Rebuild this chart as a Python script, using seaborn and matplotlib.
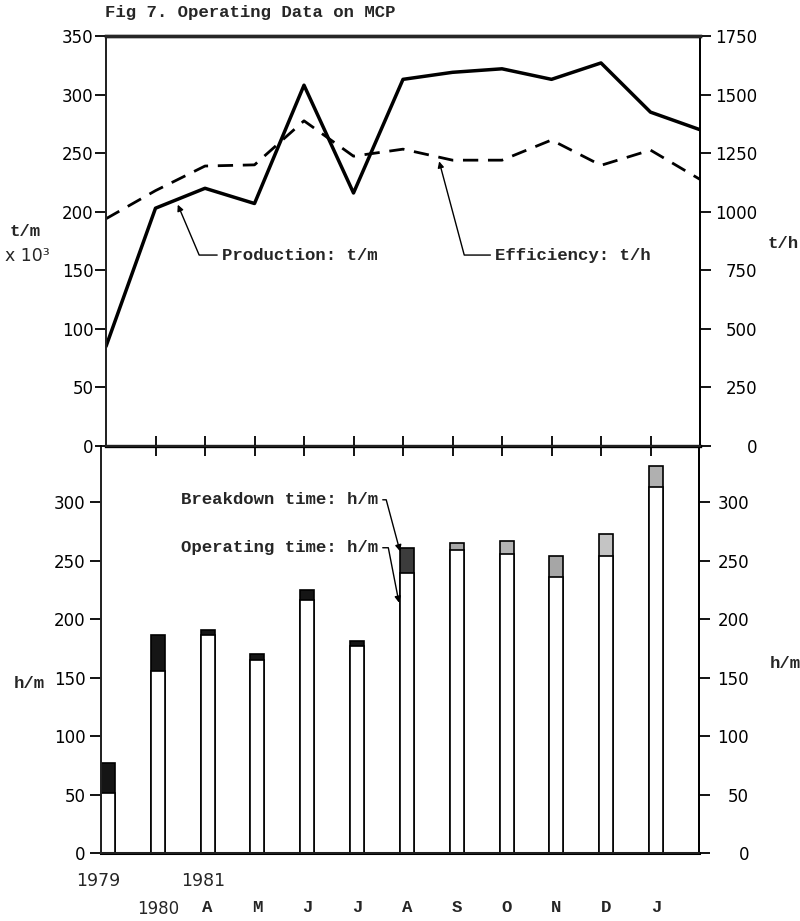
import numpy as np
import pandas as pd
import matplotlib
matplotlib.use("Agg")
import matplotlib.pyplot as plt
import seaborn as sns

# ---------------- data ----------------
periods = ["1979", "1980", "Apr81", "May81", "Jun81", "Jul81", "Aug81",
           "Sep81", "Oct81", "Nov81", "Dec81", "Jan82", "Feb82"]
production = [85, 203, 220, 207, 308, 216, 313, 319, 322, 313, 327, 285, 270]      # t/m x 10^3
efficiency = [970, 1090, 1195, 1200, 1388, 1237, 1267, 1220, 1220, 1306, 1198, 1263, 1138]  # t/h

bar_periods = periods[:12]
operating = [51, 156, 186, 165, 216, 177, 239, 259, 256, 236, 254, 313]   # h/m
breakdown = [26, 30, 5, 5, 9, 4, 22, 6, 11, 18, 19, 18]                   # h/m
breakdown_colors = ["#151515", "#151515", "#151515", "#151515", "#151515", "#151515",
                    "#3c3c3c", "#a8a8a8", "#b4b4b4", "#a6a6a6", "#c4c4c4", "#b0b0b0"]

year_labels = ["1979", "", "1981", "", "", "", "", "", "", "", "", ""]
month_labels = ["", "1980", "A", "M", "J", "J", "A", "S", "O", "N", "D", "J"]

top_left_ticks = [0, 50, 100, 150, 200, 250, 300, 350]
top_right_ticks = [0, 250, 500, 750, 1000, 1250, 1500, 1750]
bottom_ticks = [0, 50, 100, 150, 200, 250, 300]

# ---------------- style ----------------
sns.set_theme(style="ticks")
plt.rcParams["font.family"] = ["DejaVu Sans"]
MONO = dict(family="Liberation Mono", weight="bold", size=12.5)
W, H = 800, 921

fig = plt.figure(figsize=(8, 9.21), dpi=100)
fig.patch.set_facecolor("white")

# ---------------- bottom panel (bars) ----------------
ax_b = fig.add_axes([101 / W, 1 - 853 / H, (699 - 101) / W, (853 - 446) / H])
df_bar = pd.DataFrame({"period": bar_periods, "operating": operating, "breakdown": breakdown})
df_bar["total"] = df_bar["operating"] + df_bar["breakdown"]

sns.barplot(data=df_bar, x="period", y="total", hue="period", order=bar_periods,
            hue_order=bar_periods, palette=breakdown_colors, legend=False,
            width=0.28, saturation=1, edgecolor="black", linewidth=1.2, ax=ax_b)
sns.barplot(data=df_bar, x="period", y="operating", order=bar_periods,
            color="white", width=0.28, saturation=1, edgecolor="black",
            linewidth=1.2, ax=ax_b)

ax_b.set_xlim(-0.14, 11.86)
ax_b.set_ylim(0, 348)
ax_b.set_xlabel("")
ax_b.set_ylabel("")
ax_b.set_yticks(bottom_ticks)
ax_b.set_yticklabels([str(t) for t in bottom_ticks])
ax_b.tick_params(axis="y", direction="out", length=8, width=1.3, pad=3,
                 labelsize=12, colors="black")
ax_b.set_xticks(range(len(bar_periods)))
ax_b.set_xticklabels(month_labels)
ax_b.tick_params(axis="x", length=0, pad=34)
for i, lbl in enumerate(ax_b.get_xticklabels()):
    if month_labels[i].isdigit():
        lbl.set_fontfamily("DejaVu Sans")
        lbl.set_fontsize(12)
    else:
        lbl.set_fontfamily("Liberation Mono")
        lbl.set_fontweight("bold")
        lbl.set_fontsize(12.5)
year_shift = {"1979": -0.2, "1981": -0.08}
for i, yl in enumerate(year_labels):
    if yl:
        ax_b.annotate(yl, xy=(i + year_shift.get(yl, 0), 0), xycoords=("data", "axes fraction"),
                      xytext=(0, -20), textcoords="offset points",
                      ha="center", va="center", fontsize=12.5)
ax_b.spines["top"].set_visible(False)
ax_b.spines["bottom"].set_linewidth(2.2)
ax_b.spines["left"].set_linewidth(1.3)
ax_b.spines["right"].set_linewidth(1.3)
for s in ax_b.spines.values():
    s.set_color("black")

ax_br = ax_b.twinx()
ax_br.set_ylim(0, 348)
ax_br.set_yticks(bottom_ticks)
ax_br.set_yticklabels([str(t) for t in bottom_ticks])
ax_br.tick_params(axis="y", direction="out", length=8, width=1.3, pad=28,
                  labelsize=12, colors="black")
plt.setp(ax_br.get_yticklabels(), ha="right")
ax_br.spines["top"].set_visible(False)
ax_br.spines["right"].set_linewidth(1.3)
ax_br.spines["right"].set_color("black")

arrow_kw = dict(arrowstyle="-|>", color="black", lw=1.0, mutation_scale=9,
                shrinkA=1, shrinkB=0)
ax_b.annotate("Breakdown time: h/m", xy=(5.86, 258), xytext=(5.42, 302),
              ha="right", va="center", fontfamily="Liberation Mono",
              fontweight="bold", fontsize=12.5,
              arrowprops=dict(**arrow_kw, relpos=(1, 0.5),
                              connectionstyle="angle,angleA=0,angleB=-75,rad=0"))
ax_b.annotate("Operating time: h/m", xy=(5.84, 214), xytext=(5.42, 261),
              ha="right", va="center", fontfamily="Liberation Mono",
              fontweight="bold", fontsize=12.5,
              arrowprops=dict(**arrow_kw, relpos=(1, 0.5),
                              connectionstyle="angle,angleA=0,angleB=-79,rad=0"))

# ---------------- top panel (lines) ----------------
ax_t = fig.add_axes([106 / W, 1 - 446 / H, (700 - 106) / W, (446 - 36) / H])
df_line = pd.DataFrame({"idx": np.arange(len(periods)), "period": periods,
                        "production": production, "efficiency": efficiency})
sns.lineplot(data=df_line, x="idx", y="production", color="black",
             linewidth=2.5, ax=ax_t)
ax_t.set_xlim(0, len(periods) - 1)
ax_t.set_ylim(0, 350)
ax_t.set_xlabel("")
ax_t.set_ylabel("")
ax_t.set_yticks(top_left_ticks)
ax_t.set_yticklabels([str(t) for t in top_left_ticks])
ax_t.tick_params(axis="y", direction="out", length=8, width=1.3, pad=1,
                 labelsize=12, colors="black")
ax_t.set_xticks(range(1, len(periods) - 1))
ax_t.tick_params(axis="x", direction="inout", length=15, width=1.3,
                 labelbottom=False, colors="black")
ax_t.spines["top"].set_linewidth(2.4)
ax_t.spines["bottom"].set_linewidth(2.4)
ax_t.spines["left"].set_linewidth(1.3)
for s in ax_t.spines.values():
    s.set_color("black")

ax_tr = ax_t.twinx()
sns.lineplot(data=df_line, x="idx", y="efficiency", color="black",
             linewidth=2.0, linestyle="--", ax=ax_tr)
for ln in ax_tr.get_lines():
    ln.set_dashes((5.5, 3.5))
ax_tr.set_xlim(0, len(periods) - 1)
ax_tr.set_ylim(0, 1750)
ax_tr.set_ylabel("")
ax_tr.set_yticks(top_right_ticks)
ax_tr.set_yticklabels([str(t) for t in top_right_ticks])
ax_tr.tick_params(axis="y", direction="out", length=8, width=1.3, pad=33,
                  labelsize=12, colors="black")
plt.setp(ax_tr.get_yticklabels(), ha="right")
ax_tr.spines["right"].set_linewidth(1.3)
ax_tr.spines["right"].set_color("black")
ax_tr.spines["top"].set_linewidth(2.4)

ax_t.annotate("Production: t/m", xy=(1.45, 206), xytext=(2.34, 163),
              ha="left", va="center", fontfamily="Liberation Mono",
              fontweight="bold", fontsize=12.5,
              arrowprops=dict(**arrow_kw, relpos=(0, 0.5),
                              connectionstyle="angle,angleA=0,angleB=-67,rad=0"))
ax_tr.annotate("Efficiency: t/h", xy=(6.73, 1215), xytext=(7.86, 815),
               ha="left", va="center", fontfamily="Liberation Mono",
               fontweight="bold", fontsize=12.5,
               arrowprops=dict(**arrow_kw, relpos=(0, 0.5),
                               connectionstyle="angle,angleA=0,angleB=-75,rad=0"))

# ---------------- texts ----------------
fig.text(105 / W, 1 - 12 / H, "Fig 7. Operating Data on MCP", ha="left", va="center", **MONO)
fig.text(25 / W, 1 - 232 / H, "t/m", ha="center", va="center", **MONO)
fig.text(27 / W, 1 - 256 / H, "x 10³", ha="center", va="center", fontsize=12.5)
fig.text(783 / W, 1 - 243 / H, "t/h", ha="center", va="center", **MONO)
fig.text(29 / W, 1 - 683 / H, "h/m", ha="center", va="center", **MONO)
fig.text(785 / W, 1 - 663 / H, "h/m", ha="center", va="center", **MONO)

fig.savefig("out.png", dpi=100, facecolor="white")
